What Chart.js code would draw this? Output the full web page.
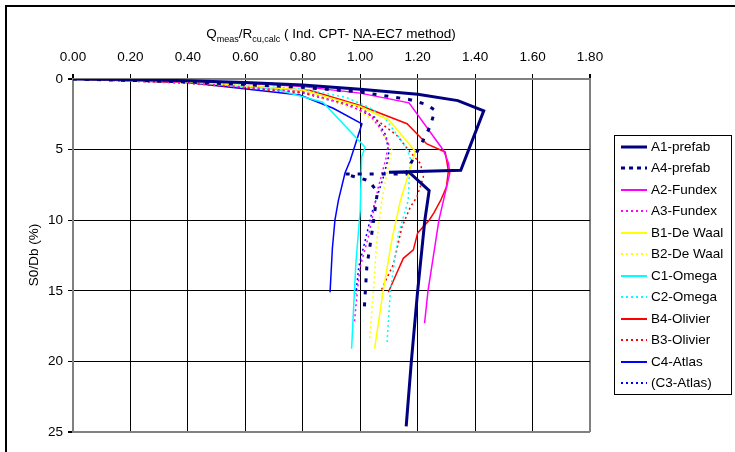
<!DOCTYPE html>
<html>
<head>
<meta charset="utf-8">
<script src="https://cdn.jsdelivr.net/npm/chart.js@4.4.1/dist/chart.umd.min.js"></script>
<style>
  html, body { margin: 0; padding: 0; background: #fff; }
  #wrap { width: 735px; height: 452px; }
</style>
</head>
<body>
<div id="wrap"><canvas id="chart" width="735" height="452"></canvas></div>
<script>
// x = Qmeas/Rcu,calc, y = S0/Db (%)
const seriesNames = ['A1-prefab', 'A4-prefab', 'A2-Fundex', 'A3-Fundex', 'B1-De Waal', 'B2-De Waal',
    'C1-Omega', 'C2-Omega', 'B4-Olivier', 'B3-Olivier', 'C4-Atlas', '(C3-Atlas)'];

const a1Prefab = [[0, 0], [0.2, 0.04], [0.4, 0.12], [0.6, 0.25], [0.8, 0.42], [1.0, 0.73], [1.2, 1.08], [1.34, 1.53],
    [1.43, 2.26], [1.35, 6.47], [1.10, 6.6], [1.17, 6.6], [1.24, 7.9], [1.225, 10], [1.2, 15], [1.178, 20], [1.16, 24.6]];
const a4Prefab = [[0, 0], [0.4, 0.2], [0.8, 0.59], [1.0, 0.92], [1.17, 1.45], [1.23, 1.8], [1.26, 2.2], [1.245, 3.3],
    [1.21, 4.7], [1.17, 6.2], [1.16, 6.72], [0.945, 6.72], [1.03, 7.2], [1.06, 8.0], [1.04, 11], [1.023, 13.3], [1.013, 16.65]];
const a2Fundex = [[0, 0], [0.4, 0.15], [0.6, 0.3], [0.8, 0.54], [1.0, 1.0], [1.17, 1.69], [1.29, 5.06], [1.307, 5.95],
    [1.312, 6.66], [1.274, 10], [1.236, 15], [1.224, 17.3]];
const a3Fundex = [[0, 0], [0.4, 0.25], [0.8, 0.9], [0.95, 1.8], [1.03, 2.45], [1.07, 3.5], [1.098, 4.57], [1.09, 5.6],
    [1.063, 7.66], [1.045, 9.5], [1.028, 11.2], [1.0, 13.3], [0.99, 15], [0.98, 17.2]];
const b1DeWaal = [[0, 0], [0.4, 0.2], [0.8, 0.78], [1.0, 1.95], [1.1, 2.9], [1.192, 5.13], [1.14, 8.6], [1.11, 11.4],
    [1.08, 15], [1.05, 19.1]];
const b2DeWaal = [[0, 0], [0.4, 0.25], [0.8, 0.85], [0.98, 2.1], [1.05, 2.95], [1.09, 4.24], [1.11, 5.0], [1.09, 7.0],
    [1.075, 8.6], [1.058, 11.4], [1.046, 15], [1.032, 18.6]];
const c1Omega = [[0, 0], [0.4, 0.2], [0.7, 0.7], [0.87, 1.64], [1.017, 4.83], [1.005, 5.5], [1.0, 9.3], [0.985, 13],
    [0.976, 16.6], [0.97, 19.1]];
const c2Omega = [[0, 0], [0.4, 0.2], [0.8, 0.7], [0.95, 1.3], [1.03, 2.0], [1.087, 2.8], [1.15, 4.57], [1.174, 5.5],
    [1.167, 8.6], [1.133, 11], [1.105, 15], [1.093, 18.8]];
const b4Olivier = [[0, 0], [0.4, 0.25], [0.826, 0.81], [1.0, 1.88], [1.163, 3.17], [1.232, 4.6], [1.296, 5.18],
    [1.307, 6.5], [1.30, 7.66], [1.28, 8.6], [1.256, 9.5], [1.24, 10], [1.2, 10.9], [1.185, 12.1], [1.15, 12.7],
    [1.128, 13.7], [1.098, 15.1]];
const b3Olivier = [[0, 0], [0.4, 0.3], [0.8, 1.0], [1.0, 2.0], [1.128, 4.0], [1.174, 5.18], [1.21, 6.0], [1.22, 6.95],
    [1.197, 8.37], [1.174, 9.08], [1.145, 10.5], [1.116, 13.1], [1.07, 15.1]];
const c4Atlas = [[0, 0], [0.4, 0.25], [0.79, 1.13], [0.906, 2.07], [1.006, 3.17], [0.965, 5.77], [0.947, 6.66],
    [0.924, 8.6], [0.912, 10], [0.903, 12], [0.895, 15.1]];
const c3Atlas = [[0, 0], [0.4, 0.27], [0.8, 0.95], [0.96, 1.9], [1.05, 2.7], [1.09, 4.0], [1.10, 5.4], [1.08, 7.0],
    [1.04, 9.5], [1.02, 11.2], [0.995, 13.3], [0.985, 15.2]];

const seriesData = [a1Prefab, a4Prefab, a2Fundex, a3Fundex, b1DeWaal, b2DeWaal, c1Omega, c2Omega,
    b4Olivier, b3Olivier, c4Atlas, c3Atlas];

// styles
const colors = ['#000080', '#000080', '#FF00FF', '#FF00FF', '#FFFF00', '#FFFF00',
    '#00FFFF', '#00FFFF', '#FF0000', '#FF0000', '#0000FF', '#0000FF'];
const widths = [3, 3, 1.5, 1.5, 1.5, 1.5, 1.5, 1.5, 1.5, 1.5, 1.5, 1.5];
const dot = [2, 3];
const dashes = [[], [4, 8], [], dot, [], dot, [], dot, [], dot, [], dot];
const legendDashes = [[], [4, 4], [], dot, [], dot, [], dot, [], dot, [], dot];

const FONT = '"Liberation Sans", Arial, sans-serif';
const FS = 13.5;

const decorPlugin = {
    id: 'decor',
    afterDraw(chart) {
        const ctx = chart.ctx;
        ctx.save();

        // outer chart border
        ctx.strokeStyle = '#000';
        ctx.lineWidth = 2;
        ctx.strokeRect(6, 6, 740, 460);

        // title with subscripts
        const main = FS + 'px ' + FONT;
        const sub = '9px ' + FONT;
        const parts = [
            ['Q', main, 0], ['meas', sub, 4], ['/R', main, 0], ['cu,calc', sub, 4],
            [' ( Ind. CPT- ', main, 0], ['NA-EC7 method', main, 0, true], [')', main, 0]
        ];
        let total = 0;
        parts.forEach(p => { ctx.font = p[1]; p.w = ctx.measureText(p[0]).width; total += p.w; });
        let x = 331 - total / 2;
        const base = 38;
        ctx.fillStyle = '#000';
        ctx.textBaseline = 'alphabetic';
        ctx.textAlign = 'left';
        parts.forEach(p => {
            ctx.font = p[1];
            ctx.fillText(p[0], x, base + p[2]);
            if (p[3]) {
                ctx.fillRect(x, base + 2, p.w, 1);
            }
            x += p.w;
        });

        // y axis title
        ctx.save();
        ctx.translate(34, 255);
        ctx.rotate(-Math.PI / 2);
        ctx.font = main;
        ctx.textAlign = 'center';
        ctx.textBaseline = 'middle';
        ctx.fillText('S0/Db (%)', 0, 0);
        ctx.restore();

        // legend
        const lx = 614, ly = 135, lw = 117, lh = 259;
        ctx.lineWidth = 1;
        ctx.strokeStyle = '#000';
        ctx.strokeRect(lx + 0.5, ly + 0.5, lw, lh);
        ctx.font = main;
        ctx.textAlign = 'left';
        ctx.textBaseline = 'middle';
        chart.data.datasets.forEach((ds, i) => {
            const cy = Math.round(146.5 + i * 21.5);
            ctx.beginPath();
            ctx.setLineDash(legendDashes[i]);
            ctx.lineWidth = i < 2 ? 3 : 2;
            ctx.strokeStyle = ds.borderColor;
            ctx.moveTo(621, cy);
            ctx.lineTo(647, cy);
            ctx.stroke();
            ctx.setLineDash([]);
            ctx.fillStyle = '#000';
            ctx.fillText(ds.label, 651, cy + 0.5);
        });

        ctx.restore();
    }
};

function isEdge(ctx, a, b) {
    if (!ctx.tick) return false;
    const v = ctx.tick.value;
    return Math.abs(v - a) < 1e-6 || Math.abs(v - b) < 1e-6;
}

const datasets = seriesNames.map((name, i) => ({
    label: name,
    data: seriesData[i].map(p => ({ x: p[0], y: p[1] })),
    borderColor: colors[i],
    backgroundColor: colors[i],
    borderWidth: widths[i],
    borderDash: dashes[i],
    pointRadius: 0,
    tension: 0,
    fill: false
}));

new Chart(document.getElementById('chart'), {
    type: 'line',
    data: { datasets },
    options: {
        responsive: false,
        animation: false,
        layout: { padding: { left: 0, top: 0, right: 145, bottom: 20 } },
        plugins: {
            legend: { display: false },
            tooltip: { enabled: false }
        },
        scales: {
            x: {
                type: 'linear',
                position: 'top',
                min: 0,
                max: 1.8,
                afterFit: s => { s.height = 79; },
                ticks: {
                    stepSize: 0.2,
                    padding: 9,
                    color: '#000',
                    font: { family: FONT, size: FS },
                    callback: v => v.toFixed(2)
                },
                grid: {
                    color: c => isEdge(c, 0, 1.8) ? '#808080' : '#000',
                    lineWidth: c => isEdge(c, 0, 1.8) ? 2 : 1,
                    tickColor: '#000',
                    tickLength: 5
                },
                border: { color: '#808080', width: 2 }
            },
            y: {
                type: 'linear',
                reverse: true,
                min: 0,
                max: 25,
                afterFit: s => { s.width = 73; },
                ticks: {
                    stepSize: 5,
                    padding: 5,
                    color: '#000',
                    font: { family: FONT, size: FS }
                },
                grid: {
                    color: c => isEdge(c, 0, 25) ? '#808080' : '#000',
                    lineWidth: c => isEdge(c, 0, 25) ? 2 : 1,
                    tickColor: '#000',
                    tickLength: 5
                },
                border: { color: '#808080', width: 2 }
            }
        }
    },
    plugins: [decorPlugin]
});
</script>
</body>
</html>
